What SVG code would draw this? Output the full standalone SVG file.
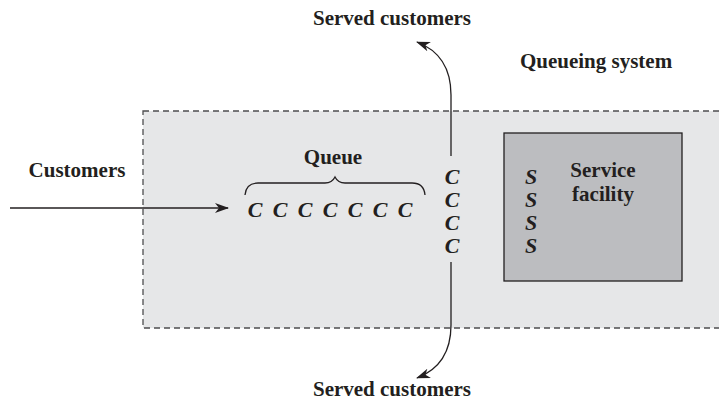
<svg xmlns="http://www.w3.org/2000/svg" width="719" height="403" viewBox="0 0 719 403">
<defs>
<style>
.lbl{font-family:"Liberation Serif","Times New Roman",serif;font-weight:bold;font-size:21px;fill:#231f20;text-anchor:middle}
.ci{font-family:"Liberation Serif","Times New Roman",serif;font-weight:bold;font-style:italic;font-size:22px;fill:#231f20;text-anchor:middle}
.ln{fill:none;stroke:#231f20;stroke-width:1.3}
</style>
<marker id="ah" viewBox="0 0 14 10" refX="13" refY="5" markerWidth="14" markerHeight="10" markerUnits="userSpaceOnUse" orient="auto">
<path d="M0,0 L14,5 L0,10 L4,5 Z" fill="#231f20"/>
</marker>
</defs>
<g id="system">
<rect x="143" y="111" width="590" height="217" fill="#e6e7e8" stroke="#4d4d4f" stroke-width="1.3" stroke-dasharray="6,4"/>
<text class="lbl" x="596" y="68">Queueing system</text>
</g>
<g id="facility">
<rect x="504" y="133" width="178" height="148" fill="#bcbdc0" stroke="#231f20" stroke-width="1.3"/>
<text class="lbl" x="603" y="177">Service</text>
<text class="lbl" x="603" y="201">facility</text>
<text class="ci" x="531" y="184">S</text>
<text class="ci" x="531" y="207">S</text>
<text class="ci" x="531" y="230">S</text>
<text class="ci" x="531" y="253">S</text>
</g>
<g id="queue">
<text class="lbl" x="333" y="164">Queue</text>
<path class="ln" d="M245,195 Q246,183 258,183 L325,183 Q332,183 335,177 Q338,183 345,183 L412,183 Q424,183 425,195"/>
<text class="ci" x="255" y="217">C</text>
<text class="ci" x="280" y="217">C</text>
<text class="ci" x="305" y="217">C</text>
<text class="ci" x="330" y="217">C</text>
<text class="ci" x="355" y="217">C</text>
<text class="ci" x="380" y="217">C</text>
<text class="ci" x="405" y="217">C</text>
</g>
<g id="inservice">
<text class="ci" x="452" y="184">C</text>
<text class="ci" x="452" y="207">C</text>
<text class="ci" x="452" y="230">C</text>
<text class="ci" x="452" y="253">C</text>
</g>
<g id="labels">
<text class="lbl" x="77" y="177">Customers</text>
<text class="lbl" x="392" y="25">Served customers</text>
<text class="lbl" x="392" y="396">Served customers</text>
</g>
<g id="connectors">
<path class="ln" d="M10,208 L228,208" marker-end="url(#ah)"/>
<path class="ln" d="M451,156 L451,95 Q451,55 417,42" marker-end="url(#ah)"/>
<path class="ln" d="M451,262 L451,325 Q451,365 417,378" marker-end="url(#ah)"/>
</g>
</svg>
